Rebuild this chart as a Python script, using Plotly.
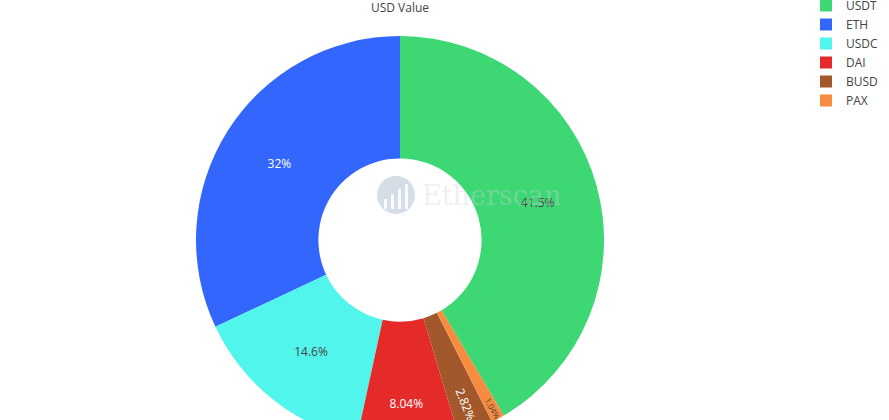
import plotly.graph_objects as go

# Share of USD value held per token
tokens = ["USDT", "ETH", "USDC", "DAI", "BUSD", "PAX"]
usd_share = [41.5, 32.0, 14.6, 8.04, 2.82, 1.04]
token_colors = ["#3dd874", "#3366fd", "#52f5ec", "#e52a2a", "#a2582a", "#f58c40"]

W, H = 889, 460
TOP, BOTTOM = 36, 16
CX, R = 400, 204
PH = H - TOP - BOTTOM


def px(pix):
    """Convert a pixel column into paper x (margins are zero left and right)."""
    return pix / W


def py(pix):
    """Convert a pixel row (from the top) into paper y."""
    return 1 - (pix - TOP) / PH


fig = go.Figure(
    go.Pie(
        labels=tokens,
        values=usd_share,
        sort=False,
        direction="counterclockwise",
        hole=0.4,
        textinfo="percent",
        textposition="inside",
        marker=dict(colors=token_colors, line=dict(width=0)),
        textfont=dict(size=12),
        domain=dict(x=[px(CX - R), px(CX + R)], y=[0, 1]),
    )
)

# Faded site watermark in the middle of the ring: round logo plus wordmark
fig.add_shape(
    type="circle", xref="paper", yref="paper",
    x0=px(377), x1=px(415), y0=py(214), y1=py(176),
    fillcolor="rgba(185,198,215,0.6)", line=dict(width=0), layer="above",
)
for x0, top in [(384, 199), (391, 194), (398, 189), (405, 184)]:
    fig.add_shape(
        type="rect", xref="paper", yref="paper",
        x0=px(x0), x1=px(x0 + 3), y0=py(209), y1=py(top),
        fillcolor="rgba(255,255,255,0.85)", line=dict(width=0), layer="above",
    )
fig.add_annotation(
    text="Etherscan", xref="paper", yref="paper",
    x=px(491), y=py(196),
    showarrow=False, xanchor="center", yanchor="middle",
    font=dict(family="DejaVu Serif", size=27, color="rgba(205,210,220,0.35)"),
)

fig.update_layout(
    width=W,
    height=H,
    autosize=False,
    margin=dict(l=0, r=0, t=TOP, b=BOTTOM, autoexpand=False),
    paper_bgcolor="white",
    plot_bgcolor="white",
    font=dict(family="Open Sans", size=12, color="#444"),
    title=dict(
        text="USD Value", x=px(CX), xanchor="center", xref="paper",
        y=1 - 8 / H, yanchor="middle", yref="container",
        font=dict(size=12, color="#444"),
    ),
    legend=dict(
        x=px(806), xanchor="left",
        y=py(-9), yanchor="top",
        font=dict(size=12, color="#444"),
        bgcolor="rgba(0,0,0,0)",
    ),
)

fig.write_html(
    "out.html",
    post_script="document.documentElement.style.overflow='hidden';document.body.style.overflow='hidden';",
)
